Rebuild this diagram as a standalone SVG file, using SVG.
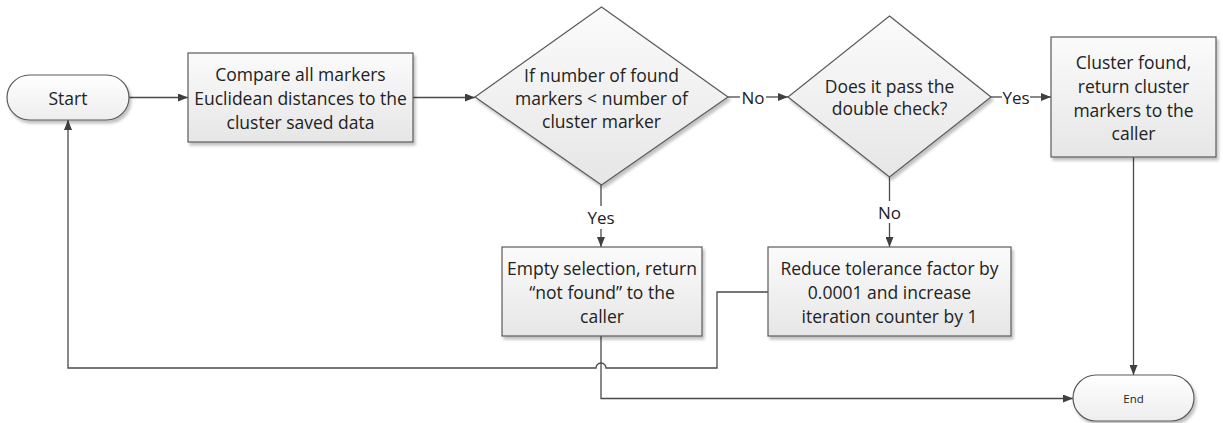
<svg xmlns="http://www.w3.org/2000/svg" width="1223" height="423" viewBox="0 0 1223 423">
  <defs>
    <linearGradient id="boxFill" x1="0" y1="0" x2="0" y2="1">
      <stop offset="0" stop-color="#fbfbfb"/>
      <stop offset="1" stop-color="#e6e6e6"/>
    </linearGradient>
    <linearGradient id="termFill" x1="0" y1="0" x2="0" y2="1">
      <stop offset="0" stop-color="#ffffff"/>
      <stop offset="1" stop-color="#ededed"/>
    </linearGradient>
    <filter id="shadow" x="-10%" y="-10%" width="125%" height="130%">
      <feGaussianBlur in="SourceAlpha" stdDeviation="1.5"/>
      <feOffset dx="2" dy="3" result="off"/>
      <feComponentTransfer><feFuncA type="linear" slope="0.25"/></feComponentTransfer>
      <feMerge><feMergeNode/><feMergeNode in="SourceGraphic"/></feMerge>
    </filter>
    <marker id="arrow" markerWidth="10" markerHeight="8" refX="10" refY="4" orient="auto" markerUnits="userSpaceOnUse">
      <path d="M0,0 L10,4 L0,8 z" fill="#3f3f3f"/>
    </marker>
    <style>
      .box { fill: url(#boxFill); stroke: #5a5a5a; stroke-width: 1.2; filter: url(#shadow); }
      .term { fill: url(#termFill); stroke: #5a5a5a; stroke-width: 1.2; filter: url(#shadow); }
      .txt { font-family: "Open Sans", "Liberation Sans", sans-serif; font-size: 17.5px; fill: #222; text-anchor: middle; dominant-baseline: central; }
      .lbl { font-family: "Open Sans", "Liberation Sans", sans-serif; font-size: 17px; fill: #222; text-anchor: middle; dominant-baseline: central; }
      .conn { fill: none; stroke: #4a4a4a; stroke-width: 1.3; }
    </style>
  </defs>

  <!-- connectors -->
  <g id="connectors">
    <path class="conn" d="M129,97.5 H188" marker-end="url(#arrow)"/>
    <path class="conn" d="M413,97.5 H475" marker-end="url(#arrow)"/>
    <path class="conn" d="M728,97 H740"/>
    <path class="conn" d="M766,97 H788" marker-end="url(#arrow)"/>
    <text class="lbl" x="753" y="97">No</text>
    <path class="conn" d="M991,97 H1002"/>
    <path class="conn" d="M1030,97 H1051" marker-end="url(#arrow)"/>
    <text class="lbl" x="1016" y="97">Yes</text>
    <path class="conn" d="M601,185 V206"/>
    <path class="conn" d="M601,229 V247" marker-end="url(#arrow)"/>
    <text class="lbl" x="601" y="217">Yes</text>
    <path class="conn" d="M889.5,177 V201"/>
    <path class="conn" d="M889.5,223 V247" marker-end="url(#arrow)"/>
    <text class="lbl" x="889.5" y="212">No</text>
    <path class="conn" d="M1133.5,157 V375" marker-end="url(#arrow)"/>
    <path class="conn" d="M601,336 V398.5 H1073" marker-end="url(#arrow)"/>
    <path class="conn" d="M768,292 H717 V368 H606 A5,5 0 0 0 596,368 H68 V120" marker-end="url(#arrow)"/>
  </g>

  <g id="start">
    <rect class="term" x="7" y="75" width="122" height="45" rx="22.5"/>
    <text class="txt" x="68" y="97.5">Start</text>
  </g>

  <g id="compare">
    <rect class="box" x="188" y="53" width="225" height="89"/>
    <text class="txt" x="300.5" y="74">Compare all markers</text>
    <text class="txt" x="300.5" y="98">Euclidean distances to the</text>
    <text class="txt" x="300.5" y="122">cluster saved data</text>
  </g>

  <g id="check-count">
    <polygon class="box" points="601.5,7 728,97 601.5,185 475,97"/>
    <text class="txt" x="601.5" y="75">If number of found</text>
    <text class="txt" x="601.5" y="98">markers &lt; number of</text>
    <text class="txt" x="601.5" y="121">cluster marker</text>
  </g>

  <g id="double-check">
    <polygon class="box" points="889.5,16 991,97 889.5,177 788,97"/>
    <text class="txt" x="889.5" y="86">Does it pass the</text>
    <text class="txt" x="889.5" y="108">double check?</text>
  </g>

  <g id="found">
    <rect class="box" x="1051" y="37" width="165" height="120"/>
    <text class="txt" x="1133.5" y="62">Cluster found,</text>
    <text class="txt" x="1133.5" y="86">return cluster</text>
    <text class="txt" x="1133.5" y="109.5">markers to the</text>
    <text class="txt" x="1133.5" y="133">caller</text>
  </g>

  <g id="empty">
    <rect class="box" x="502" y="247" width="200" height="89"/>
    <text class="txt" x="602" y="268">Empty selection, return</text>
    <text class="txt" x="602" y="292">“not found” to the</text>
    <text class="txt" x="602" y="315.5">caller</text>
  </g>

  <g id="reduce">
    <rect class="box" x="768" y="247" width="243" height="89"/>
    <text class="txt" x="889.5" y="268">Reduce tolerance factor by</text>
    <text class="txt" x="889.5" y="292">0.0001 and increase</text>
    <text class="txt" x="889.5" y="316">iteration counter by 1</text>
  </g>

  <g id="end">
    <rect class="term" x="1073" y="375" width="121" height="46" rx="23"/>
    <text class="txt" x="1133.5" y="398" style="font-size:11.5px">End</text>
  </g>
</svg>
